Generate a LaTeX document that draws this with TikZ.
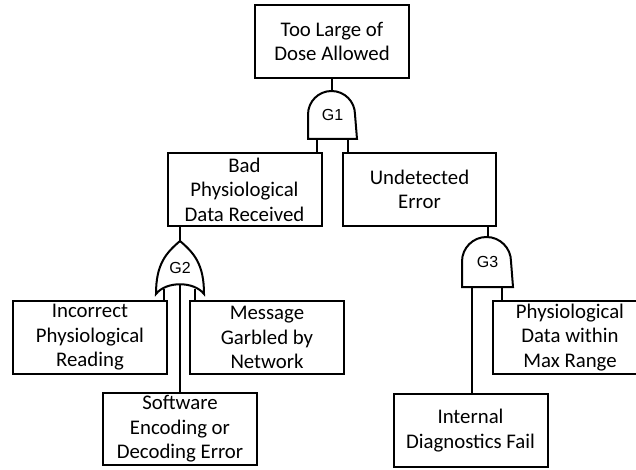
\documentclass[tikz,border=0pt]{standalone}
\usepackage{fontspec}
\setmainfont{Carlito}
\newfontfamily\gatefont{Liberation Sans}
\usepackage{tikz}
\usetikzlibrary{calc}

\newcommand{\andoutline}[2]{%
  \draw (#1.south west) -- ($(#1.north west)+(0,-#2)$)
    arc[start angle=180, end angle=0, radius=#2pt] -- (#1.south east) -- cycle;}
\newcommand{\oroutline}[1]{%
  \draw (#1.south west) .. controls +(0,30) and +(-14,-12) .. (#1.north)
    .. controls +(14,-12) and +(0,30) .. (#1.south east)
    .. controls +(-10,13) and +(10,13) .. (#1.south west) -- cycle;}

\begin{document}
\begin{tikzpicture}[x=1pt, y=1pt, line width=2pt,
  event/.style={draw, rectangle, minimum width=154pt, minimum height=73pt,
    inner sep=0pt, align=center, font=\fontsize{20.8}{24.5}\selectfont},
  gate/.style={inner sep=0pt, font=\gatefont\fontsize{16}{16}\selectfont}]
			\useasboundingbox (0,0) rectangle (636,-470);
			\clip (0,0) rectangle (636,-470);
			\node[event] (top) at (332,-41.5) {Too Large of\\Dose Allowed};
			\node[event] (bad) at (244.5,-189.5) {Bad\\Physiological\\Data Received};
			\node[event, minimum width=153pt] (undet) at (419.5,-189.5) {Undetected\\Error};
			\node[event] (incorrect) at (90,-337.5) {Incorrect\\Physiological\\Reading};
			\node[event] (message) at (267,-337.5) {Message\\Garbled by\\Network};
			\node[event, minimum height=72pt] (software) at (180,-429) {Software\\Encoding or\\Decoding Error};
			\node[event] (physio) at (570,-337.5) {Physiological\\Data within\\Max Range};
			\node[event] (internal) at (470.5,-430.5) {Internal\\Diagnostics Fail};
			\node[gate, minimum width=47pt, minimum height=46pt] (g1) at (332.5,-115) {G1};
			\node[gate, minimum width=46pt, minimum height=51pt] (g2) at (180,-267.5) {G2};
			\node[gate, minimum width=49pt, minimum height=48pt] (g3) at (487.5,-262) {G3};
			\andoutline{g1}{23.5}
			\oroutline{g2}
			\andoutline{g3}{24.5}
			\draw (top.south) -- (top.south |- g1.north);
			\draw ([xshift=-15.5pt]g1.south) -- ([xshift=-15.5pt]g1.south |- bad.north);
			\draw ([xshift=15.5pt]g1.south) -- ([xshift=15.5pt]g1.south |- undet.north);
			\draw (g2.north) -- (g2.north |- bad.south);
			\draw ([xshift=-16pt,yshift=5pt]g2.south) -- ([xshift=-16pt]g2.south |- incorrect.north);
			\draw ([xshift=15pt,yshift=5pt]g2.south) -- ([xshift=15pt]g2.south |- message.north);
			\draw ([yshift=10pt]g2.south) -- (g2.south |- software.north);
			\draw (g3.north) -- (g3.north |- undet.south);
			\draw ([xshift=-16pt]g3.south) -- ([xshift=-16pt]g3.south |- internal.north);
			\draw ([xshift=14pt]g3.south) -- ([xshift=14pt]g3.south |- physio.north);
		\end{tikzpicture}
\end{document}
